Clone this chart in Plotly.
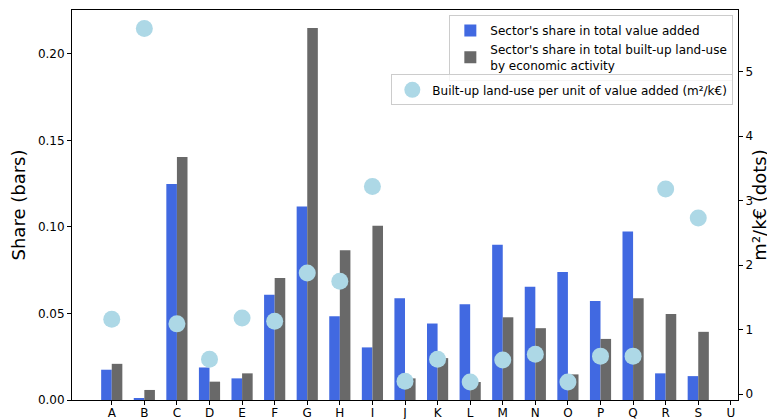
import plotly.graph_objects as go

sectors = ["A","B","C","D","E","F","G","H","I","J","K","L","M","N","O","P","Q","R","S","U"]
share_value_added = [0.0175,0.001,0.1249,0.0188,0.0125,0.0609,0.1118,0.0484,0.0304,0.0588,
                     0.0442,0.0553,0.0897,0.0655,0.0740,0.0572,0.0974,0.0154,0.0138,0.0]
share_landuse = [0.0209,0.0058,0.1405,0.0106,0.0154,0.0705,0.215,0.0865,0.1007,0.0125,
                 0.0242,0.0104,0.0478,0.0415,0.0148,0.0353,0.0588,0.0497,0.0394,0.0]
landuse_per_va = [1.16,5.67,1.09,0.54,1.18,1.13,1.88,1.75,3.22,0.20,
                  0.54,0.19,0.53,0.62,0.19,0.59,0.59,3.18,2.73,None]

fig = go.Figure()
fig.add_trace(go.Bar(x=sectors, y=share_value_added, name="Sector's share in total value added",
                     marker=dict(color="#4169E1", line=dict(width=0)), legend="legend"))
fig.add_trace(go.Bar(x=sectors, y=share_landuse,
                     name="Sector's share in total built-up land-use<br>by economic activity",
                     marker=dict(color="#696969", line=dict(width=0)), legend="legend"))
fig.add_trace(go.Scatter(x=sectors, y=landuse_per_va, yaxis="y2", mode="markers",
                         name="Built-up land-use per unit of value added (m²/k€)",
                         marker=dict(color="#ADD8E6", size=17), legend="legend2"))

font = "DejaVu Sans"
# page body has an 8px margin, so the figure is sized/placed to compensate
fig.update_layout(
    width=767, height=411,
    margin=dict(l=64, r=37, t=2, b=19),
    paper_bgcolor="white", plot_bgcolor="white",
    barmode="group", bargap=0.35, bargroupgap=0,
    font=dict(family=font, size=12, color="black"),
    showlegend=True,
    xaxis=dict(range=[-1.22, 19.22], showline=True, linecolor="black", linewidth=1, mirror=True,
               ticks="outside", ticklen=4, tickcolor="black", showgrid=False,
               tickfont=dict(size=12), ticklabelstandoff=-2, automargin=False),
    yaxis=dict(range=[0, 0.2254], showline=True, linecolor="black", linewidth=1,
               ticks="outside", ticklen=4, tickcolor="black", showgrid=False, zeroline=False,
               tickvals=[0, 0.05, 0.10, 0.15, 0.20], tickformat=".2f", tickfont=dict(size=12),
               title=dict(text="Share (bars)", font=dict(size=18), standoff=8),
               automargin=False),
    yaxis2=dict(range=[-0.09, 5.955], overlaying="y", side="right", showline=True,
                linecolor="black", linewidth=1, ticks="outside", ticklen=4, tickcolor="black",
                showgrid=False, zeroline=False, tickvals=[0, 1, 2, 3, 4, 5], tickfont=dict(size=12),
                automargin=False),
    annotations=[dict(text="m²/k€ (dots)", xref="paper", yref="paper", x=1.031, y=0.5,
                      xanchor="center", yanchor="middle", textangle=-90, showarrow=False,
                      font=dict(size=18))],
    legend=dict(x=0.993, y=0.987, xanchor="right", yanchor="top",
                bgcolor="rgba(255,255,255,0.8)", bordercolor="#cccccc", borderwidth=1,
                font=dict(size=12), tracegroupgap=0),
    legend2=dict(x=0.993, y=0.835, xanchor="right", yanchor="top",
                 bgcolor="rgba(255,255,255,0.8)", bordercolor="#cccccc", borderwidth=1,
                 font=dict(size=12)),
)

fig.write_html("out.html")
